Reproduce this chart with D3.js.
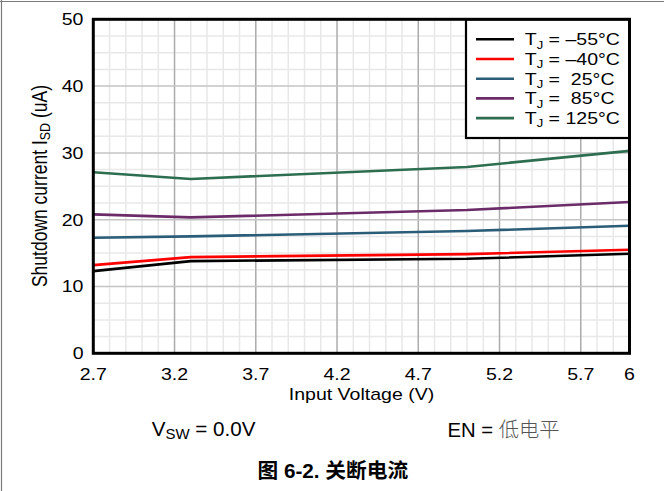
<!DOCTYPE html>
<html>
<head>
<meta charset="utf-8">
<script src="https://cdn.jsdelivr.net/npm/d3@7"></script>
<style>
html,body{margin:0;padding:0;background:#fff;}
svg{display:block;}
text{font-family:"Liberation Sans",Arial,sans-serif;}
</style>
</head>
<body>
<svg id="chart" width="664" height="491"></svg>
<script>
// ---- data ----
const vin   = [2.7, 3.3, 5.0, 6.0];
const tjM55 = [12.3, 13.8, 14.15, 14.9];
const tjM40 = [13.2, 14.4, 14.85, 15.5];
const tj25  = [17.3, 17.5, 18.3, 19.1];
const tj85  = [20.8, 20.35, 21.45, 22.65];
const tj125 = [27.1, 26.1, 27.9, 30.3];
const seriesNames = ["\u201355\u00B0C", "\u201340\u00B0C", " 25\u00B0C", " 85\u00B0C", "125\u00B0C"];
const seriesColors = ["#000000", "#ff0000", "#2b5d78", "#6a2b68", "#2d6e50"];
const xTicks = [2.7, 3.2, 3.7, 4.2, 4.7, 5.2, 5.7, 6];
const xTickLabels = ["2.7", "3.2", "3.7", "4.2", "4.7", "5.2", "5.7", "6"];
const yTicks = [0, 10, 20, 30, 40, 50];
const yTickLabels = ["0", "10", "20", "30", "40", "50"];

const series = [tjM55, tjM40, tj25, tj85, tj125];

const svg = d3.select("#chart");
const L = 93.3, R = 629.5, T = 19.3, B = 353.3;
const x = d3.scaleLinear().domain([2.7, 6]).range([L, R]);
const y = d3.scaleLinear().domain([0, 50]).range([B, T]);
const SX = 1.245;

// outer figure border (top + left)
svg.append("line").attr("x1", 0).attr("x2", 664).attr("y1", 1.5).attr("y2", 1.5)
  .attr("stroke", "#7a7a7a").attr("stroke-width", 1.2);
svg.append("line").attr("x1", 1.5).attr("x2", 1.5).attr("y1", 0).attr("y2", 491)
  .attr("stroke", "#7a7a7a").attr("stroke-width", 1.2);

// grid
const g = svg.append("g");
const minorX = d3.range(27, 61).map(d => d / 10).filter(v => !xTicks.some(t => Math.abs(t - v) < 1e-6));
const minorY = d3.range(0, 51, 2.5).filter(v => v % 10 !== 0);
g.selectAll(".mx").data(minorX).join("line")
  .attr("x1", d => x(d)).attr("x2", d => x(d)).attr("y1", T).attr("y2", B)
  .attr("stroke", "#e8e8e8").attr("stroke-width", 1.5);
g.selectAll(".my").data(minorY).join("line")
  .attr("x1", L).attr("x2", R).attr("y1", d => y(d)).attr("y2", d => y(d))
  .attr("stroke", "#e8e8e8").attr("stroke-width", 1.5);
g.selectAll(".Mx").data(xTicks.slice(1, -1)).join("line")
  .attr("x1", d => x(d)).attr("x2", d => x(d)).attr("y1", T).attr("y2", B)
  .attr("stroke", "#ababab").attr("stroke-width", 1.5);
g.selectAll(".My").data(yTicks.slice(1, -1)).join("line")
  .attr("x1", L).attr("x2", R).attr("y1", d => y(d)).attr("y2", d => y(d))
  .attr("stroke", "#c4c4c4").attr("stroke-width", 1.5);

// lines
const line = d3.line().x((d, i) => x(vin[i])).y(d => y(d));
const order = [4, 3, 2, 0, 1];
order.forEach(i => {
  svg.append("path").datum(series[i]).attr("d", line)
    .attr("fill", "none").attr("stroke", seriesColors[i]).attr("stroke-width", 2.6)
    .attr("stroke-linejoin", "round");
});

// legend
const lg = svg.append("g");
lg.append("rect").attr("x", 466).attr("y", T).attr("width", R - 466).attr("height", 138 - T)
  .attr("fill", "#fff").attr("stroke", "#000").attr("stroke-width", 2.2);
seriesNames.forEach((name, i) => {
  const yy = 39.3 + i * 19.7;
  lg.append("line").attr("x1", 476).attr("x2", 514).attr("y1", yy).attr("y2", yy)
    .attr("stroke", seriesColors[i]).attr("stroke-width", 2.6);
  const t = lg.append("text").attr("transform", `translate(524.7,${yy + 5.8}) scale(${SX},1)`)
    .attr("font-size", 15.7).attr("fill", "#000").style("white-space", "pre");
  t.append("tspan").text("T");
  t.append("tspan").attr("font-size", 10.5).attr("dy", 3.5).text("J");
  t.append("tspan").attr("dy", -3.5).text(" = " + name);
});

// plot frame
svg.append("rect").attr("x", L).attr("y", T).attr("width", R - L).attr("height", B - T)
  .attr("fill", "none").attr("stroke", "#000").attr("stroke-width", 3);

// tick labels
svg.selectAll(".xt").data(xTicks).join("text")
  .attr("transform", d => `translate(${x(d)},380) scale(${SX},1)`)
  .attr("text-anchor", "middle").attr("font-size", 15.7).attr("fill", "#000")
  .text((d, i) => xTickLabels[i]);
svg.selectAll(".yt").data(yTicks).join("text")
  .attr("transform", d => `translate(83.5,${y(d) + 5.8}) scale(${SX},1)`)
  .attr("text-anchor", "end").attr("font-size", 15.7).attr("fill", "#000")
  .text((d, i) => yTickLabels[i]);

// axis titles
svg.append("text").attr("transform", `translate(361.5,400) scale(${SX},1)`)
  .attr("text-anchor", "middle").attr("font-size", 15.7).attr("fill", "#000")
  .text("Input Voltage (V)");
const yl = svg.append("text").attr("transform", `translate(46.5,186) scale(${SX},1) rotate(-90)`)
  .attr("text-anchor", "middle").attr("font-size", 17.5).attr("fill", "#000").style("white-space", "pre");
yl.append("tspan").text("Shutdown current I");
yl.append("tspan").attr("font-size", 12.5).attr("dy", 2.5).text("SD");
yl.append("tspan").attr("dy", -2.5).text(" (uA)");

// annotations
const v = svg.append("text").attr("x", 151.7).attr("y", 436).attr("font-size", 20.6).attr("fill", "#000")
  .style("white-space", "pre");
v.append("tspan").text("V");
v.append("tspan").attr("font-size", 15).attr("dy", 2.5).text("SW");
v.append("tspan").attr("dy", -2.5).text(" = 0.0V");

const en = svg.append("text").attr("x", 447.5).attr("y", 436.7).attr("font-size", 20.3).attr("fill", "#000")
  .style("white-space", "pre");
en.append("tspan").text("EN = ");
en.append("tspan").attr("font-family", "'Noto Sans CJK SC'").attr("font-weight", 300)
  .attr("fill", "#555").text("低电平");

svg.append("text").attr("x", 332.8).attr("y", 478).attr("text-anchor", "middle")
  .attr("font-size", 20.7).attr("font-weight", "bold").attr("fill", "#000")
  .style("font-family", "'Liberation Sans', 'Noto Sans CJK SC', sans-serif")
  .text("图 6-2. 关断电流");
</script>
</body>
</html>
